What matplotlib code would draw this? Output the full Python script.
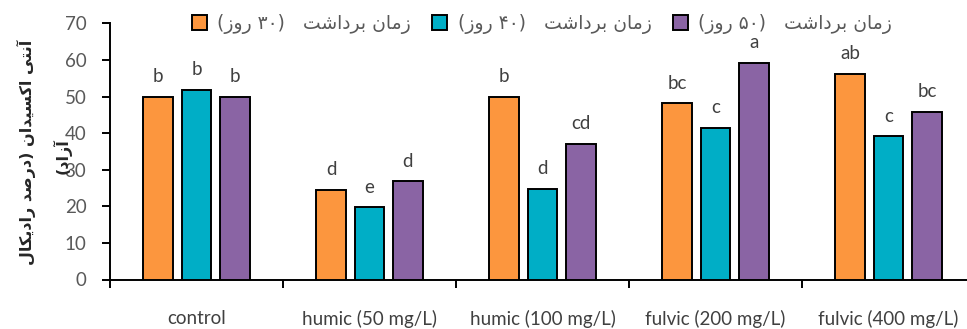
import re
import matplotlib
matplotlib.use("Agg")
import matplotlib.pyplot as plt
from matplotlib.patches import Patch
import numpy as np

# ---- data -------------------------------------------------------------
categories = ["control", "humic (50 mg/L)", "humic (100 mg/L)",
              "fulvic (200 mg/L)", "fulvic (400 mg/L)"]
series_names = ["زمان برداشت   (۳۰ روز)", "زمان برداشت   (۴۰ روز)", "زمان برداشت   (۵۰ روز)"]
values_30 = [50.0, 24.4, 50.0, 48.1, 56.2]
values_40 = [51.8, 19.7, 24.8, 41.4, 39.1]
values_50 = [50.0, 26.8, 37.1, 59.1, 45.8]
letters_30 = ["b", "d", "b", "bc", "ab"]
letters_40 = ["b", "e", "d", "c", "c"]
letters_50 = ["b", "d", "cd", "a", "bc"]
y_ticks = [0, 10, 20, 30, 40, 50, 60, 70]
ylabel_lines = ["آنتی اکسیدان (درصد رادیکال", "آزاد)"]

colors = ["#FC963E", "#00AEC6", "#8A64A4"]

# ---- minimal Persian shaping (presentation forms + visual order) ------
_FORMS = {
    "\u0622": ("\uFE81", "\uFE82", None, None),
    "\u0627": ("\uFE8D", "\uFE8E", None, None),
    "\u0628": ("\uFE8F", "\uFE90", "\uFE91", "\uFE92"),
    "\u062A": ("\uFE95", "\uFE96", "\uFE97", "\uFE98"),
    "\u062F": ("\uFEA9", "\uFEAA", None, None),
    "\u0631": ("\uFEAD", "\uFEAE", None, None),
    "\u0632": ("\uFEAF", "\uFEB0", None, None),
    "\u0633": ("\uFEB1", "\uFEB2", "\uFEB3", "\uFEB4"),
    "\u0634": ("\uFEB5", "\uFEB6", "\uFEB7", "\uFEB8"),
    "\u0635": ("\uFEB9", "\uFEBA", "\uFEBB", "\uFEBC"),
    "\u0644": ("\uFEDD", "\uFEDE", "\uFEDF", "\uFEE0"),
    "\u0645": ("\uFEE1", "\uFEE2", "\uFEE3", "\uFEE4"),
    "\u0646": ("\uFEE5", "\uFEE6", "\uFEE7", "\uFEE8"),
    "\u0648": ("\uFEED", "\uFEEE", None, None),
    "\u06A9": ("\uFB8E", "\uFB8F", "\uFB90", "\uFB91"),
    "\u06CC": ("\uFBFC", "\uFBFD", "\uFBFE", "\uFBFF"),
}


def rtl(text):
    chars = list(text)
    shaped = []
    for i, c in enumerate(chars):
        forms = _FORMS.get(c)
        if forms is None:
            shaped.append(c)
            continue
        prev = chars[i - 1] if i > 0 else None
        nxt = chars[i + 1] if i + 1 < len(chars) else None
        joins_prev = prev in _FORMS and _FORMS[prev][2] is not None
        joins_next = forms[2] is not None and nxt in _FORMS
        if joins_prev and joins_next:
            shaped.append(forms[3])
        elif joins_prev:
            shaped.append(forms[1])
        elif joins_next:
            shaped.append(forms[2])
        else:
            shaped.append(forms[0])
    runs = re.findall(r"[0-9\u06F0-\u06F9]+|[^0-9\u06F0-\u06F9]+", "".join(shaped))
    mirror = str.maketrans("()", ")(")
    out = []
    for r in reversed(runs):
        out.append(r if r[0].isdigit() else r[::-1].translate(mirror))
    return "".join(out)


# ---- figure -----------------------------------------------------------
plt.rcParams["font.family"] = ["Lato", "DejaVu Sans"]
fig = plt.figure(figsize=(9.67, 3.29), dpi=100)
ax = fig.add_axes([110 / 967, 1 - 279.5 / 329, 865 / 967, (279.5 - 23.3) / 329])

x = np.arange(len(categories))
offset = 0.222
width = 0.172
series = [values_30, values_40, values_50]
letters = [letters_30, letters_40, letters_50]

for k, (vals, lets, col) in enumerate(zip(series, letters, colors)):
    pos = x + (k - 1) * offset
    bars = ax.bar(pos, vals, width, color=col, edgecolor="black", linewidth=1.4, zorder=3)
    for b, lab in zip(bars, lets):
        ax.annotate(lab, (b.get_x() + b.get_width() / 2, b.get_height()),
                    xytext=(0, 8.5), textcoords="offset points",
                    ha="center", va="bottom", fontsize=13.5, color="#404040")

ax.set_xlim(-0.5, len(categories) - 0.5)
ax.set_ylim(0, 70)
ax.set_yticks(y_ticks)
ax.tick_params(axis="y", direction="out", length=6, width=1.4, pad=11,
               labelsize=13.5, labelcolor="#595959")

ax.set_xticks(np.arange(len(categories) + 1) - 0.5)
ax.set_xticklabels([])
ax.tick_params(axis="x", which="major", direction="out", length=6, width=1.4)
ax.set_xticks(x, minor=True)
ax.set_xticklabels(categories, minor=True)
ax.tick_params(axis="x", which="minor", length=0, pad=22,
               labelsize=13.5, labelcolor="#404040")

for side in ("top", "right"):
    ax.spines[side].set_visible(False)
for side in ("left", "bottom"):
    ax.spines[side].set_linewidth(1.4)
    ax.spines[side].set_color("black")

handles = [Patch(facecolor=c, edgecolor="black", linewidth=1.4) for c in colors]
fig.legend(handles, [rtl(s) for s in series_names], ncol=3,
           loc="center", bbox_to_anchor=(542 / 967, 1 - 24 / 329),
           frameon=False, handlelength=0.8, handleheight=0.8,
           handletextpad=0.55, columnspacing=1.15,
           prop={"family": "DejaVu Sans", "size": 13.5})
for t in fig.legends[0].get_texts():
    t.set_color("#595959")

fig.text(26 / 967, 1 - 152 / 329, rtl(ylabel_lines[0]), rotation=90,
         ha="center", va="center", fontsize=11.5, fontweight="bold",
         family="DejaVu Sans", color="#262626")
fig.text(62 / 967, 1 - 156 / 329, rtl(ylabel_lines[1]), rotation=90,
         ha="center", va="center", fontsize=11.5, fontweight="bold",
         family="DejaVu Sans", color="#262626")

fig.savefig("out.png", dpi=100)
